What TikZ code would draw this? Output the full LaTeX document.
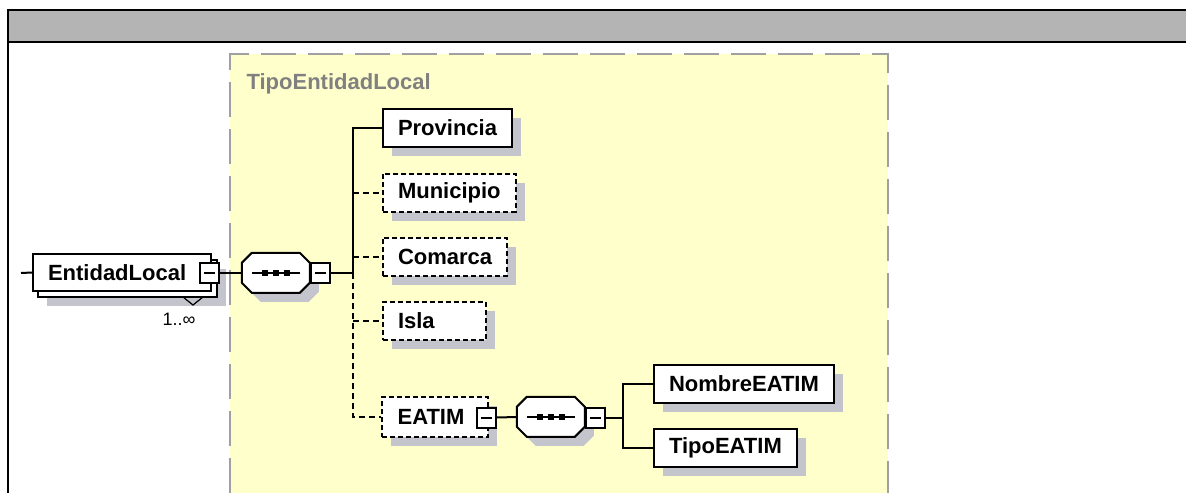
\documentclass[tikz,border=0pt]{standalone}
\usepackage{fontspec}
\setmainfont{Liberation Sans}
\usetikzlibrary{shadows,calc}
\definecolor{hdrgray}{HTML}{B4B4B4}
\definecolor{ybg}{HTML}{FFFFCC}
\definecolor{ybord}{HTML}{A0A0A0}
\definecolor{shc}{HTML}{C4C4CC}
\definecolor{titlegray}{HTML}{808080}
\newcommand\seqshape[1]{%
 \begin{scope}[shift={(#1.north west)}]
 \fill[shc] (19,9) -- (67,9) -- (77,19) -- (77,39) -- (67,49) -- (19,49) -- (9,39) -- (9,19) -- cycle;
 \filldraw[fill=white, draw=black, line width=2pt] (10,0) -- (58,0) -- (68,10) -- (68,30) -- (58,40) -- (10,40) -- (0,30) -- (0,10) -- cycle;
 \draw[line width=2pt] (10,20) -- (58,20);
 \foreach \xx in {23,34,45} \fill (\xx-3,17) rectangle (\xx+3,23);
 \end{scope}}
\begin{document}
\begin{tikzpicture}[x=1pt,y=-1pt,
  eshadow/.style={general shadow={fill=shc, shadow xshift=9pt, shadow yshift=-9pt}},
  ebox/.style={draw, line width=2pt, fill=white, anchor=west, minimum height=38pt,
    inner xsep=15pt, inner ysep=0pt, font=\fontsize{22}{24}\selectfont\bfseries},
  elem/.style={ebox, eshadow},
  optel/.style={elem, dash pattern=on 5pt off 3pt},
  conn/.style={line width=2pt},
  oconn/.style={conn, dash pattern=on 6pt off 4pt},
  seqnode/.style={minimum width=68pt, minimum height=40pt, inner sep=0pt},
  mbox/.style={draw, line width=2pt, fill=white, minimum width=19pt, minimum height=20pt, inner sep=0pt,
    path picture={\draw[line width=2pt] ([xshift=4pt]path picture bounding box.west) -- ([xshift=-4pt]path picture bounding box.east);}}
]
\useasboundingbox (0,0) rectangle (1186,493);
% header band
\fill[hdrgray] (8,10) rectangle (1186,42);
\draw[line width=2.5pt] (7,10) -- (1186,10);
\draw[line width=2.5pt] (7,42) -- (1186,42);
\draw[line width=2.5pt] (8,9) -- (8,493);
% complex type box
\fill[ybg] (230,54) rectangle (888,493);
\draw[ybord, line width=2.5pt, dash pattern=on 35pt off 12pt] (230,493) -- (230,54) -- (888,54) -- (888,493);
\node[anchor=base west, text=titlegray, font=\fontsize{22}{24}\selectfont\bfseries] (title) at (243,89) {TipoEntidadLocal};

% sequence nodes (placeholders)
\node[seqnode] (s1) at (276,273) {};
\node[seqnode] (s2) at (551,417) {};

% EntidadLocal (multiple)
\draw[line width=2pt, fill=white, eshadow] (38,260) rectangle (217,297);
\draw[line width=1.2pt] (183,297) -- (193,305) -- (203,297);
\node[ebox, minimum width=178pt, minimum height=37pt] (ent) at (32,272.5) {EntidadLocal\hspace*{10pt}};
\node[mbox] (mbEnt) at (209,273) {};
\node[anchor=base west, font=\fontsize{18}{20}\selectfont] (mult) at (159,325) {1..∞};
\coordinate (lstub) at (21,273);

% first sequence
\seqshape{s1}
\node[mbox] (mb1) at (320,273) {};
\coordinate (t1) at (353,273);

% children
\node[elem] (prov) at (382,128) {Provincia};
\node[optel] (mun) at (382,192.5) {Municipio};
\node[optel] (com) at (382,256.5) {Comarca};
\node[optel] (isla) at (382,321) {\makebox[73pt][l]{Isla}};
\node[optel, minimum width=106pt, minimum height=40pt] (eatim) at (381,417) {EATIM\hspace*{8pt}};
\node[mbox] (mbE) at (486,417.5) {};

% second sequence
\seqshape{s2}
\node[mbox] (mb2) at (595,417.5) {};
\coordinate (t2) at (623,417.5);
\node[elem] (nombre) at (653,384) {NombreEATIM};
\node[elem] (tipo) at (653,448) {TipoEATIM};

% connectors
\draw[conn] (lstub) -- (ent.west);
\draw[conn] (mbEnt.east) -- (s1.west);
\draw[conn] (mb1.east) -- (t1);
\draw[conn] (t1) |- (prov.west);
\draw[oconn] (t1) |- (eatim.west);
\draw[oconn] (t1 |- mun.west) -- (mun.west);
\draw[oconn] (t1 |- com.west) -- (com.west);
\draw[oconn] (t1 |- isla.west) -- (isla.west);
\draw[conn] (mbE.east) -- (s2.west);
\draw[conn] (mb2.east) -- (t2);
\draw[conn] (t2) |- (nombre.west);
\draw[conn] (t2) |- (tipo.west);
\end{tikzpicture}
\end{document}
